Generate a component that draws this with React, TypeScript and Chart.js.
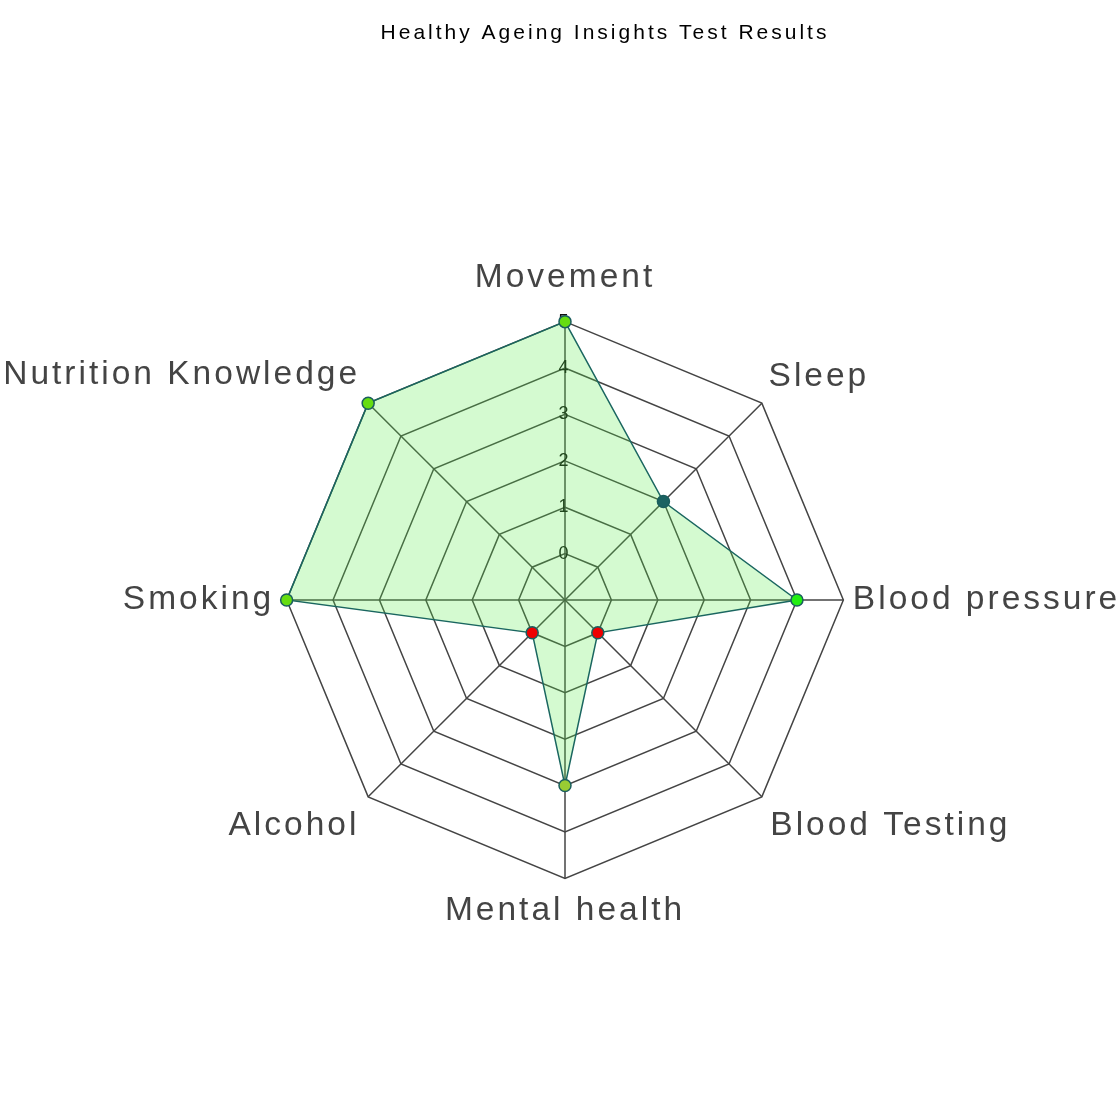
import React, { useEffect, useRef } from "react";
import { Chart, registerables, layouts } from "chart.js";

Chart.register(...registerables);

const categories = [
  "Movement",
  "Sleep",
  "Blood pressure",
  "Blood Testing",
  "Mental health",
  "Alcohol",
  "Smoking",
  "Nutrition Knowledge",
];
const scores = [5, 2, 4, 0, 3, 0, 5, 5];
const pointColors = [
  "#66dd11",
  "#1a6262",
  "#22ee11",
  "#ee0000",
  "#99cc33",
  "#ee0000",
  "#66dd11",
  "#66dd11",
];
const titleText = "Healthy Ageing Insights Test Results";
const scaleMin = -1;
const scaleMax = 5;

// label offsets (styling only), one per category
const labelPadding = [13, -1.5, -1.5, 1, 1, 1.5, 1.5, 0.5];

const FONT = "'Liberation Sans', Arial, Helvetica, sans-serif";
const SPACING = "3px";
const CANVAS_LEFT = -5;
const CANVAS_W = 1220;
const CANVAS_H = 1133;
const RIGHT_SPACER = 89;

const spacingPlugin = {
  id: "letterSpacing",
  beforeInit(chart: any) {
    chart.ctx.letterSpacing = SPACING;
  },
  beforeUpdate(chart: any) {
    chart.ctx.letterSpacing = SPACING;
  },
  beforeDraw(chart: any) {
    chart.ctx.letterSpacing = SPACING;
  },
};

const spacerPlugin = {
  id: "rightSpacer",
  beforeInit(chart: any) {
    const box: any = {
      position: "right",
      weight: 0,
      fullSize: false,
      options: {},
      width: 0,
      height: 0,
      left: 0,
      top: 0,
      right: 0,
      bottom: 0,
      isHorizontal() {
        return false;
      },
      update(_w: number, h: number) {
        box.width = RIGHT_SPACER;
        box.height = h;
        return { width: RIGHT_SPACER, height: h };
      },
      draw() {},
    };
    layouts.addBox(chart, box);
  },
};

export default function App() {
  const ref = useRef<HTMLCanvasElement | null>(null);
  useEffect(() => {
    if (!ref.current) return;
    const chart = new Chart(ref.current, {
      type: "radar",
      data: {
        labels: categories,
        datasets: [
          {
            label: "Score",
            data: scores,
            backgroundColor: "rgba(83,235,67,0.25)",
            borderColor: "#1a6660",
            borderWidth: 1.5,
            fill: "start",
            pointBackgroundColor: pointColors,
            pointBorderColor: "#1a5e5e",
            pointBorderWidth: 1.5,
            pointRadius: 6,
          },
        ],
      },
      plugins: [spacingPlugin, spacerPlugin],
      options: {
        animation: false,
        responsive: true,
        maintainAspectRatio: false,
        plugins: {
          legend: { display: false },
          tooltip: { enabled: false },
          title: {
            display: true,
            text: titleText,
            color: "#000",
            font: { family: FONT, size: 21, weight: "normal" },
            padding: { top: 21, bottom: 10 },
          },
        },
        scales: {
          r: {
            min: scaleMin,
            max: scaleMax,
            ticks: {
              stepSize: 1,
              showLabelBackdrop: false,
              color: "#111",
              font: { family: FONT, size: 18 },
              callback: (v: any) => (v < 0 ? "" : String(v)),
            },
            grid: { color: "#444444", lineWidth: 1.5 },
            angleLines: { color: "#444444", lineWidth: 1.5 },
            pointLabels: {
              color: "#444444",
              font: { family: FONT, size: 33.5 },
              padding: (ctx: any) => labelPadding[ctx.index] ?? 0,
            },
          },
        },
      },
    });
    return () => chart.destroy();
  }, []);
  return (
    <div
      style={{
        position: "absolute",
        left: 0,
        top: 0,
        width: 1118,
        height: 1118,
        overflow: "hidden",
      }}
    >
      <div
        style={{
          position: "absolute",
          left: CANVAS_LEFT,
          top: 0,
          width: CANVAS_W,
          height: CANVAS_H,
        }}
      >
        <canvas ref={ref} />
      </div>
    </div>
  );
}
